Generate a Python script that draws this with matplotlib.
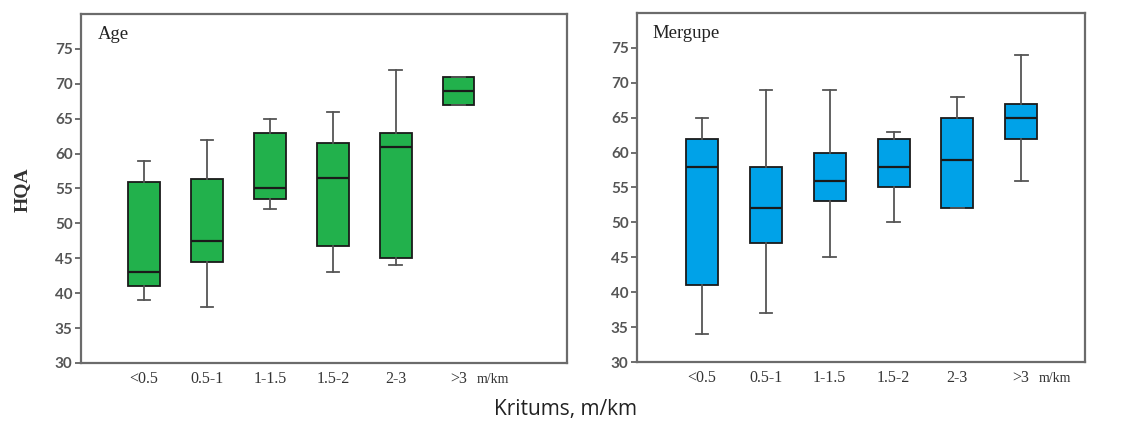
import matplotlib
matplotlib.use("Agg")
import matplotlib.pyplot as plt

categories = ["<0.5", "0.5-1", "1-1.5", "1.5-2", "2-3", ">3"]

# Age panel: whisker low, Q1, median, Q3, whisker high
age_low = [39, 38, 52, 43, 44, 67]
age_q1 = [41, 44.5, 53.5, 46.7, 45, 67]
age_med = [43, 47.5, 55, 56.5, 61, 69]
age_q3 = [56, 56.3, 63, 61.5, 63, 71]
age_high = [59, 62, 65, 66, 72, 71]

# Mergupe panel
mer_low = [34, 37, 45, 50, 52, 56]
mer_q1 = [41, 47, 53, 55, 52, 62]
mer_med = [58, 52, 56, 58, 59, 65]
mer_q3 = [62, 58, 60, 62, 65, 67]
mer_high = [65, 69, 69, 63, 68, 74]

yticks = [30, 35, 40, 45, 50, 55, 60, 65, 70, 75]

W, H = 1132, 432
fig = plt.figure(figsize=(W / 100, H / 100), dpi=100)

serif = ["Liberation Serif", "DejaVu Serif"]
ticksans = ["Lato", "DejaVu Sans"]


def make_stats(low, q1, med, q3, high):
    return [dict(whislo=a, q1=b, med=c, q3=d, whishi=e, fliers=[])
            for a, b, c, d, e in zip(low, q1, med, q3, high)]


def panel(rect, stats, color, title, xlim):
    ax = fig.add_axes(rect)
    positions = list(range(1, len(categories) + 1))
    ax.bxp(stats, positions=positions, widths=0.5, patch_artist=True,
           showfliers=False,
           boxprops=dict(facecolor=color, edgecolor="#1a1a1a", linewidth=1.3),
           medianprops=dict(color="#1a1a1a", linewidth=1.6),
           whiskerprops=dict(color="#555555", linewidth=1.3),
           capprops=dict(color="#555555", linewidth=1.3),
           capwidths=0.2)
    ax.set_xlim(*xlim)
    ax.set_ylim(30, 80)
    ax.set_yticks(yticks)
    ax.set_yticklabels([str(t) for t in yticks], family=ticksans,
                       fontsize=11, fontweight="bold", color="#555555")
    ax.set_xticks(positions)
    ax.set_xticklabels(categories, family=serif, fontsize=11.5, color="#333333")
    ax.tick_params(axis="x", length=0, pad=6)
    ax.tick_params(axis="y", length=4, width=1.2, color="#555555", pad=2)
    for s in ax.spines.values():
        s.set_color("#6b6b6b")
        s.set_linewidth(1.6)
    ax.text(0.035, 0.965, title, transform=ax.transAxes, ha="left", va="top",
            family=serif, fontsize=13.5, color="#222222")
    ax.annotate("m/km", xy=(6.28, 0), xycoords=("data", "axes fraction"),
                xytext=(0, -7.5), textcoords="offset points",
                ha="left", va="top", family=serif, fontsize=10,
                color="#333333")
    return ax


panel([81 / W, 1 - 363 / H, 486 / W, 349 / H],
      make_stats(age_low, age_q1, age_med, age_q3, age_high),
      "#22B14C", "Age", (0.0, 7.72))
panel([637 / W, 1 - 362 / H, 448 / W, 349 / H],
      make_stats(mer_low, mer_q1, mer_med, mer_q3, mer_high),
      "#00A2E8", "Mergupe", (-0.02, 7.0))

fig.text(22 / W, 1 - 190 / H, "HQA", rotation=90, ha="center", va="center",
         family=serif, fontsize=14, fontweight="bold", color="#333333")
fig.text(565 / W, 1 - 410 / H, "Kritums, m/km", ha="center", va="center",
         family=["Open Sans", "DejaVu Sans"], fontsize=15, color="#222222")

fig.savefig("out.png", dpi=100)
